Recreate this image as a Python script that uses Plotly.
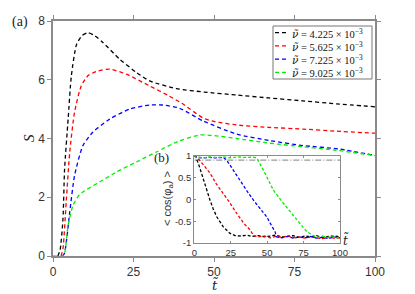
import plotly.graph_objects as go

# ---------------- main panel data (a) ----------------
t_black = [1.5, 2.2, 3.1, 3.6, 4.7, 5.7, 7.3, 9.0, 10.9, 13.0, 15.5, 20.7, 25.9, 30.0, 38.3, 47.0, 57.0, 67.0, 77.6, 88.0, 100.0]
S_black = [0.0, 0.2, 1.27, 2.96, 4.66, 6.13, 7.2, 7.5, 7.6, 7.5, 7.27, 6.7, 6.25, 5.96, 5.7, 5.58, 5.48, 5.38, 5.28, 5.18, 5.08]

t_red = [2.5, 3.1, 4.1, 5.2, 6.7, 8.8, 11.0, 14.0, 17.6, 22.8, 30.0, 36.0, 40.0, 46.6, 50.0, 57.0, 67.0, 77.6, 88.0, 100.0]
S_red = [0.0, 0.25, 1.84, 3.54, 4.9, 5.8, 6.15, 6.3, 6.36, 6.19, 5.79, 5.45, 5.2, 4.7, 4.58, 4.46, 4.38, 4.32, 4.25, 4.18]

t_blue = [3.0, 3.6, 5.2, 6.7, 9.3, 12.4, 17.6, 23.8, 30.0, 34.1, 39.3, 46.6, 57.0, 67.3, 77.6, 89.0, 100.0]
S_blue = [0.0, 0.1, 1.5, 2.74, 3.76, 4.22, 4.66, 5.0, 5.14, 5.14, 5.03, 4.6, 4.15, 3.93, 3.76, 3.64, 3.42]

t_green = [0.0, 3.0, 3.6, 4.7, 6.2, 8.3, 14.5, 19.7, 25.9, 32.1, 38.8, 45.6, 50.0, 57.0, 67.3, 77.6, 88.0, 100.0]
S_green = [0.0, 0.0, 0.1, 1.04, 1.72, 2.1, 2.52, 2.86, 3.2, 3.54, 3.9, 4.12, 4.1, 4.0, 3.84, 3.72, 3.6, 3.42]

# ---------------- inset data (b) ----------------
ti_black = [0, 1, 3, 6.2, 8.5, 10.8, 13, 15.4, 19.9, 24.5, 28, 32, 36, 40, 44, 48, 52, 56, 60, 64, 68, 72, 76, 80, 84, 88, 92, 96, 100]
c_black = [1, 0.97, 0.8, 0.44, 0.2, -0.02, -0.22, -0.4, -0.63, -0.78, -0.83, -0.84, -0.82, -0.85, -0.83, -0.86, -0.84, -0.82, -0.86, -0.85, -0.83, -0.87, -0.84, -0.86, -0.83, -0.88, -0.85, -0.84, -0.86]

ti_red = [0, 2.8, 6, 10.8, 15, 19.9, 24, 29.1, 34, 38.3, 40.6, 44, 48, 52, 56, 60, 64, 68, 72, 76, 80, 84, 88, 92, 96, 100]
c_red = [1, 0.93, 0.8, 0.6, 0.36, 0.14, -0.06, -0.32, -0.55, -0.7, -0.83, -0.86, -0.84, -0.88, -0.85, -0.87, -0.84, -0.88, -0.86, -0.89, -0.86, -0.88, -0.9, -0.87, -0.89, -0.88]

ti_blue = [0, 2, 5, 10, 15, 20, 22.2, 26, 31.4, 36, 40.6, 45, 49.7, 53, 55.4, 56.5, 60, 64, 68, 72, 76, 80, 84, 88, 92, 96, 100]
c_blue = [1, 0.96, 0.95, 0.96, 0.95, 0.96, 0.9, 0.7, 0.44, 0.2, -0.02, -0.2, -0.4, -0.6, -0.74, -0.86, -0.88, -0.85, -0.89, -0.86, -0.88, -0.85, -0.89, -0.87, -0.9, -0.86, -0.88]

ti_green = [0, 1, 3, 6, 10, 15, 20, 25, 30, 35, 40, 42.8, 47.4, 54.3, 61.1, 70.3, 77.2, 81.8, 85, 88, 91, 94, 97, 100]
c_green = [1, 0.96, 0.97, 0.95, 0.97, 0.96, 0.97, 0.95, 0.97, 0.96, 0.97, 0.95, 0.67, 0.21, -0.09, -0.47, -0.74, -0.83, -0.87, -0.84, -0.88, -0.85, -0.89, -0.86]

ti_ref = [0, 100]
c_ref = [0.9, 0.9]

NU = '<span style="font-family:DejaVu Serif"><i>ν̃</i></span>'
TT = '<span style="font-family:DejaVu Serif"><i>t̃</i></span>'
legend_values = ["4.225", "5.625", "7.225", "9.025"]
legend_names = [NU + " = " + v + " × 10<sup>−3</sup>" for v in legend_values]
colors = ["#000000", "#ff0000", "#0000ff", "#00ee00"]

main_x_ticks = [0, 25, 50, 75, 100]
main_y_ticks = [0, 2, 4, 6, 8]
inset_x_ticks = [0, 25, 50, 75, 100]
inset_y_ticks = [-1, -0.5, 0, 0.5, 1]
inset_y_text = ["-1", "-0.5", "0", "0.5", "1"]

W, H = 415, 294
L, R, T, B = 53, 40, 21, 38
pw, ph = W - L - R, H - T - B


def px(x):
    return (x - L) / pw


def py(y):
    return (H - B - y) / ph


fig = go.Figure()
main_sets = [(t_black, S_black), (t_red, S_red), (t_blue, S_blue), (t_green, S_green)]
for (tt, ss), name, col in zip(main_sets, legend_names, colors):
    fig.add_trace(go.Scatter(x=tt, y=ss, mode="lines", name=name, showlegend=False,
                             line=dict(color=col, width=1.3, dash="4px,3px", shape="spline", smoothing=0.6),
                             xaxis="x", yaxis="y"))

inset_sets = [(ti_black, c_black), (ti_red, c_red), (ti_blue, c_blue), (ti_green, c_green)]
fig.add_trace(go.Scatter(x=ti_ref, y=c_ref, mode="lines", showlegend=False,
                         line=dict(color="#999999", width=1.2, dash="6px,2px,1px,2px"),
                         xaxis="x2", yaxis="y2"))
for (tt, cc), col in zip(inset_sets, colors):
    fig.add_trace(go.Scatter(x=tt, y=cc, mode="lines", showlegend=False,
                             line=dict(color=col, width=1.3, dash="3px,2px"),
                             xaxis="x2", yaxis="y2"))

axis_col = "#8a8a8a"
tick_font = dict(family="Liberation Sans, Arial", size=12, color="#333333")
small_font = dict(family="Liberation Sans, Arial", size=9.5, color="#333333")
serif = "Liberation Serif, Times New Roman"

shapes = []
annotations = []


def label(text, x, y, size, family=serif, angle=0, color="#222222", xanchor="center"):
    return dict(text=text, x=px(x), y=py(y), xref="paper", yref="paper", showarrow=False,
                xanchor=xanchor, yanchor="middle", textangle=angle,
                font=dict(family=family, size=size, color=color))


# custom legend box (compact, like the reference)
lx0, lx1, ly0, ly1 = 273, 372, 26, 79
shapes.append(dict(type="rect", xref="paper", yref="paper", x0=px(lx0), x1=px(lx1), y0=py(ly1), y1=py(ly0),
                   line=dict(color="#777777", width=1), fillcolor="white", layer="above"))
row_h = (ly1 - ly0) / len(legend_names)
for i, (name, col) in enumerate(zip(legend_names, colors)):
    yc = ly0 + row_h * (i + 0.5)
    shapes.append(dict(type="line", xref="paper", yref="paper", x0=px(275), x1=px(288), y0=py(yc), y1=py(yc),
                       line=dict(color=col, width=1.3, dash="4px,3px"), layer="above"))
    annotations.append(label(name, 290, yc + 0.5, 10.5, color="#111111", xanchor="left"))

annotations += [
    label("(a)", 20, 22, 14),
    label("(b)", 161, 157, 13),
    label("<i>S</i>", 29, 138, 15, angle=-90),
    label(TT, 215, 285, 13),
    label(TT, 346, 240, 12),
    label("< cos(φ<sub>a</sub>) >", 168, 199, 11, family="Liberation Sans, Arial", angle=-90, color="#333333"),
]

fig.update_layout(
    width=W, height=H,
    margin=dict(l=L, r=R, t=T, b=B, autoexpand=False),
    paper_bgcolor="white", plot_bgcolor="white",
    showlegend=False,
    xaxis=dict(domain=[0, 1], range=[0, 100], tickvals=main_x_ticks, showgrid=False, zeroline=False,
               showline=True, linecolor=axis_col, linewidth=1.5, mirror="ticks", automargin=False,
               ticks="outside", ticklen=4, tickcolor=axis_col, tickfont=tick_font),
    yaxis=dict(domain=[0, 1], range=[0, 8], tickvals=main_y_ticks, showgrid=False, zeroline=False,
               showline=True, linecolor=axis_col, linewidth=1.5, mirror="ticks", automargin=False,
               ticks="outside", ticklen=4, tickcolor=axis_col, tickfont=tick_font),
    xaxis2=dict(domain=[px(194.3), px(340)], anchor="y2", range=[0, 100], tickvals=inset_x_ticks, showgrid=False,
                zeroline=False, showline=True, linecolor=axis_col, linewidth=1.2, mirror="ticks", automargin=False,
                ticks="inside", ticklen=2, tickcolor=axis_col, tickfont=small_font),
    yaxis2=dict(domain=[py(243), py(155.7)], anchor="x2", range=[-1, 1], tickvals=inset_y_ticks,
                ticktext=inset_y_text, automargin=False,
                showgrid=False, zeroline=False, showline=True, linecolor=axis_col, linewidth=1.2, mirror="ticks",
                ticks="inside", ticklen=2, tickcolor=axis_col, tickfont=small_font),
    shapes=shapes,
    annotations=annotations,
)

fig.write_html("out.html", config={"displayModeBar": False},
               post_script="document.body.style.margin='0';document.body.style.overflow='hidden';")
